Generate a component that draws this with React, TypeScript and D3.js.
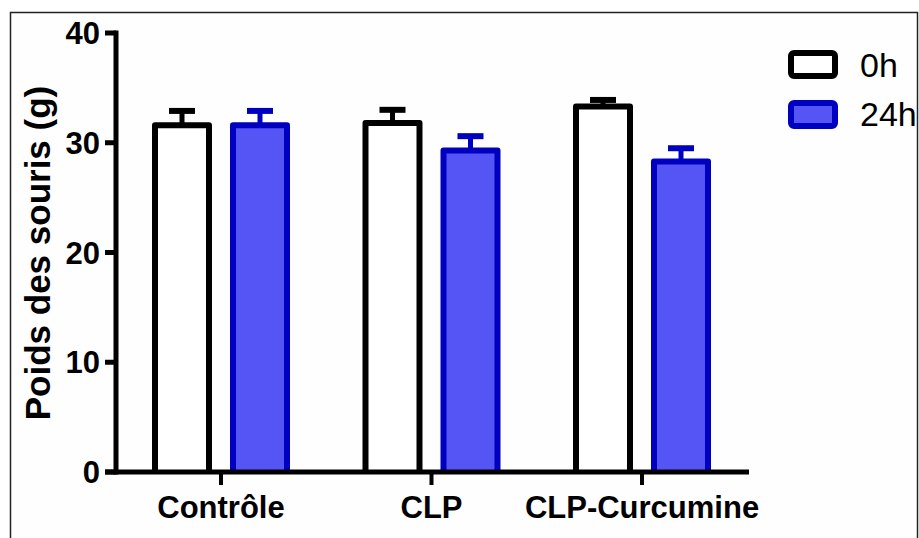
import React from "react";
import * as d3 from "d3";

const categories = ["Contrôle", "CLP", "CLP-Curcumine"];
const seriesNames = ["0h", "24h"];
const means0h = [31.6, 31.8, 33.3];
const err0h = [1.3, 1.2, 0.6];
const means24h = [31.6, 29.3, 28.3];
const err24h = [1.3, 1.3, 1.2];
const yTicks = [0, 10, 20, 30, 40];

const W = 919, H = 538;
const fillColors = ["#ffffff", "#5555f5"];
const strokeColors = ["#000000", "#0000c0"];

export default function App() {
  const y = d3.scaleLinear().domain([0, 40]).range([472, 33]);
  const x = d3.scalePoint().domain(categories).range([221, 642]);
  const barW = 54;
  const gap = 24;
  const series = [
    { means: means0h, errs: err0h },
    { means: means24h, errs: err24h },
  ];
  const font = "'Liberation Sans', Arial, sans-serif";
  return (
    <svg width={W} height={H} style={{ position: "absolute", left: 0, top: 0, background: "#fff" }}>
      <rect x={10.5} y={12.5} width={907} height={540} fill="#fefefe" stroke="#222" strokeWidth={1.5} />
      {series.map((s, si) =>
        categories.map((c, ci) => {
          const cx = (x(c) as number) + (si === 0 ? -(gap / 2 + barW / 2) : gap / 2 + barW / 2);
          const top = y(s.means[ci]);
          const et = y(s.means[ci] + s.errs[ci]);
          return (
            <g key={`${si}-${ci}`}>
              <line x1={cx} x2={cx} y1={top} y2={et} stroke={strokeColors[si]} strokeWidth={5} />
              <line x1={cx - 13} x2={cx + 13} y1={et} y2={et} stroke={strokeColors[si]} strokeWidth={6} />
              <path
                d={`M${cx - barW / 2},${y(0)} V${top} H${cx + barW / 2} V${y(0)}`}
                fill={fillColors[si]}
                stroke={strokeColors[si]}
                strokeWidth={6}
                strokeLinejoin="round"
              />
            </g>
          );
        })
      )}
      {/* y axis */}
      <line x1={116} x2={116} y1={y(40) - 2.5} y2={y(0) + 2.5} stroke="#000" strokeWidth={5} />
      {yTicks.map((t) => (
        <g key={t}>
          <line x1={105} x2={116} y1={y(t)} y2={y(t)} stroke="#000" strokeWidth={5} />
          <text x={100} y={y(t)} dy="0.36em" textAnchor="end" fontFamily={font} fontWeight="bold" fontSize={31} fill="#000">
            {t}
          </text>
        </g>
      ))}
      {/* x axis */}
      <line x1={105} x2={749} y1={y(0)} y2={y(0)} stroke="#000" strokeWidth={5} />
      {categories.map((c) => (
        <g key={c}>
          <line x1={x(c)} x2={x(c)} y1={y(0)} y2={y(0) + 13} stroke="#000" strokeWidth={4} />
          <text x={x(c)} y={518} textAnchor="middle" fontFamily={font} fontWeight="bold" fontSize={31} fill="#000">
            {c}
          </text>
        </g>
      ))}
      <text
        transform={`translate(50,253) rotate(-90)`}
        textAnchor="middle"
        fontFamily={font}
        fontWeight="bold"
        fontSize={35}
        fill="#000"
      >
        Poids des souris (g)
      </text>
      {/* legend */}
      {seriesNames.map((n, i) => (
        <g key={n}>
          <rect x={791} y={53 + i * 50} width={44} height={23} rx={3} fill={fillColors[i]} stroke={strokeColors[i]} strokeWidth={6} />
          <text x={860} y={65 + i * 49} dy="0.36em" fontFamily={font} fontSize={34} fill="#000">
            {n}
          </text>
        </g>
      ))}
    </svg>
  );
}
